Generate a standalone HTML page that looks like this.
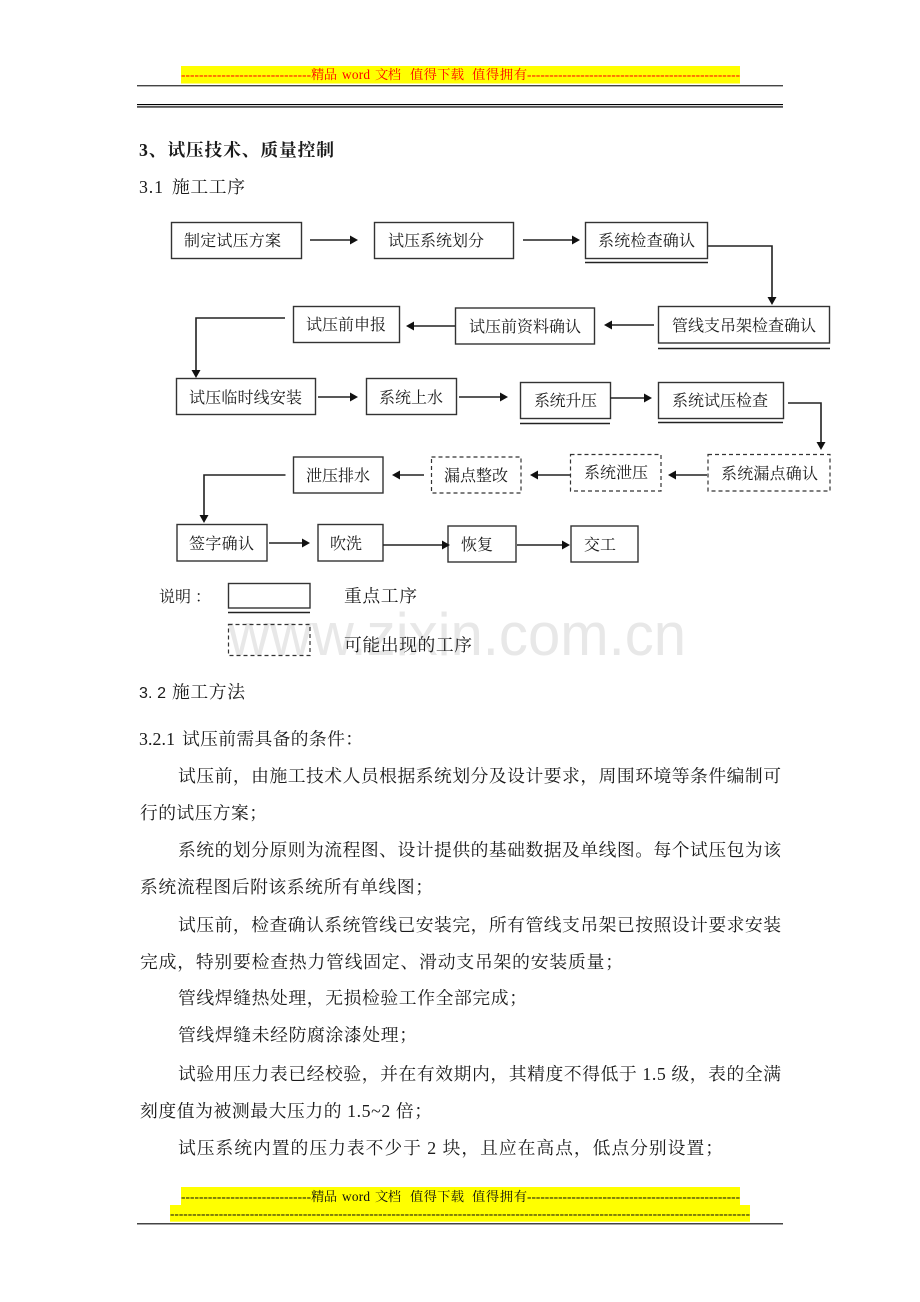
<!DOCTYPE html>
<html lang="zh">
<head>
<meta charset="utf-8">
<title>试压技术、质量控制</title>
<style>
html,body{margin:0;padding:0;background:#fff;width:920px;height:1302px;overflow:hidden}
svg{display:block}
text{font-family:"Liberation Serif","Noto Serif CJK SC",serif;fill:#1a1a1a;white-space:pre}
.b{font-size:16px}
.p{font-size:17.8px}
.h{font-size:17.8px;font-weight:bold}
.r{font-size:13.3px;fill:#f00}
.k{font-size:13.3px;fill:#111}
.box{fill:none;stroke:#333;stroke-width:1.4}
.dash{fill:none;stroke:#333;stroke-width:1.2;stroke-dasharray:4 3}
.ln{fill:none;stroke:#222;stroke-width:1.6}
.head{fill:#111}
</style>
</head>
<body>
<svg xmlns="http://www.w3.org/2000/svg" width="920" height="1302" viewBox="0 0 920 1302">
<rect width="920" height="1302" fill="#fff"/>

<!-- watermark -->
<text x="228" y="655" textLength="458" lengthAdjust="spacingAndGlyphs" style="font-family:'Liberation Sans',sans-serif;font-size:60px;fill:#e8e8e8">www.zixin.com.cn</text>

<!-- header -->
<rect x="181" y="66" width="559" height="17.5" fill="#ff0"/>
<text class="r" x="181" y="79" textLength="130">-----------------------------</text>
<text class="r" x="311" y="79" textLength="26">精品</text>
<text class="r" x="342" y="79" textLength="28">word</text>
<text class="r" x="375" y="79" textLength="26">文档</text>
<text class="r" x="410" y="79" textLength="54">值得下载</text>
<text class="r" x="472" y="79" textLength="55">值得拥有</text>
<text class="r" x="527" y="79" textLength="213">------------------------------------------------</text>
<rect x="137" y="85" width="646" height="1.4" fill="#444"/>
<rect x="137" y="104" width="646" height="1" fill="#000"/>
<rect x="137" y="105.8" width="646" height="2" fill="#555"/>

<!-- headings -->
<text class="h" x="139" y="156" textLength="195">3、试压技术、质量控制</text>
<text class="p" x="139" y="193" textLength="24">3.1</text>
<text class="p" x="172" y="193" textLength="73">施工工序</text>

<!-- boxes solid -->
<rect class="box" x="171.5" y="222.5" width="130" height="36"/>
<rect class="box" x="374.5" y="222.5" width="139" height="36"/>
<rect class="box" x="585.5" y="222.5" width="122" height="36"/>
<rect class="box" x="658.5" y="306.5" width="171" height="36.5"/>
<rect class="box" x="455.5" y="308" width="139" height="36"/>
<rect class="box" x="293.5" y="306.5" width="106" height="36"/>
<rect class="box" x="176.5" y="378.5" width="139" height="36"/>
<rect class="box" x="366.5" y="378.5" width="90" height="36"/>
<rect class="box" x="520.5" y="382.5" width="90" height="36"/>
<rect class="box" x="658.5" y="382.5" width="125" height="36"/>
<rect class="box" x="293.5" y="457" width="89.5" height="36"/>
<rect class="box" x="177" y="524.5" width="90" height="36.5"/>
<rect class="box" x="318" y="524.5" width="65" height="36.5"/>
<rect class="box" x="448" y="526" width="68" height="36"/>
<rect class="box" x="571" y="526" width="67" height="36"/>

<!-- underlines -->
<path class="ln" d="M585 262.5H708M658 348.5H830M520 423.5H610M658 422.5H783"/>

<!-- boxes dashed -->
<rect class="dash" x="708" y="454.5" width="122" height="36.5"/>
<rect class="dash" x="570.5" y="454.5" width="90.5" height="36.5"/>
<rect class="dash" x="431.5" y="457" width="89.5" height="36"/>

<!-- legend -->
<rect class="box" x="228.5" y="583.5" width="81.5" height="24.5"/>
<path class="ln" d="M228 612.5H310"/>
<rect class="dash" x="228.5" y="624.5" width="81.5" height="31"/>

<!-- connectors -->
<path class="ln" d="M310 240H350M523 240H572M708 246H772V297M654 325H612M455 326H414M285 318H196V370M318 397H350M459 397H500M610 398H644M788 403H821V442M707 475H676M570 475H538M424 475H400M285.5 475H204V515M269 543H302M383 545H442M517 545H562"/>
<g class="head">
<path d="M358 240l-8-4.500v9zM580 240l-8-4.500v9zM772 305l-4.500-8h9zM604 325l8-4.500v9zM406 326l8-4.500v9zM196 378l-4.500-8h9zM358 397l-8-4.500v9zM508 397l-8-4.500v9zM652 398l-8-4.500v9zM821 450l-4.500-8h9zM668 475l8-4.500v9zM530 475l8-4.500v9zM392 475l8-4.500v9zM204 523l-4.500-8h9zM310 543l-8-4.500v9zM450 545l-8-4.500v9zM570 545l-8-4.500v9z"/>
</g>

<!-- box labels -->
<text class="b" x="184" y="246" textLength="97">制定试压方案</text>
<text class="b" x="388" y="246" textLength="96">试压系统划分</text>
<text class="b" x="598" y="246" textLength="97">系统检查确认</text>
<text class="b" x="672" y="331" textLength="144">管线支吊架检查确认</text>
<text class="b" x="469" y="332" textLength="112">试压前资料确认</text>
<text class="b" x="306" y="330" textLength="80">试压前申报</text>
<text class="b" x="189" y="403" textLength="113">试压临时线安装</text>
<text class="b" x="379" y="403" textLength="64">系统上水</text>
<text class="b" x="534" y="406" textLength="63">系统升压</text>
<text class="b" x="672" y="406" textLength="96">系统试压检查</text>
<text class="b" x="721" y="479" textLength="97">系统漏点确认</text>
<text class="b" x="584" y="478" textLength="64">系统泄压</text>
<text class="b" x="444" y="481" textLength="64">漏点整改</text>
<text class="b" x="306" y="481" textLength="64">泄压排水</text>
<text class="b" x="189" y="549" textLength="65">签字确认</text>
<text class="b" x="330" y="549" textLength="32">吹洗</text>
<text class="b" x="461" y="550" textLength="32">恢复</text>
<text class="b" x="584" y="550" textLength="32">交工</text>
<text class="b" x="159" y="602" textLength="32">说明</text>
<text class="b" x="195" y="602">：</text>
<text class="p" x="344" y="602" textLength="73">重点工序</text>
<text class="p" x="344" y="651" textLength="128">可能出现的工序</text>

<!-- body -->
<text class="h" x="139" y="698" textLength="27" style="font-family:'Liberation Sans',sans-serif;font-weight:normal;font-size:16px">3. 2</text>
<text class="h" x="172" y="698" textLength="73" style="font-weight:normal">施工方法</text>
<text class="p" x="139" y="745" textLength="36">3.2.1</text>
<text class="p" x="182" y="745" textLength="181">试压前需具备的条件：</text>
<text class="p" x="178" y="782" textLength="603">试压前，由施工技术人员根据系统划分及设计要求，周围环境等条件编制可</text>
<text class="p" x="140" y="819" textLength="127">行的试压方案；</text>
<text class="p" x="178" y="856" textLength="603">系统的划分原则为流程图、设计提供的基础数据及单线图。每个试压包为该</text>
<text class="p" x="140" y="893" textLength="293">系统流程图后附该系统所有单线图；</text>
<text class="p" x="178" y="931" textLength="603">试压前，检查确认系统管线已安装完，所有管线支吊架已按照设计要求安装</text>
<text class="p" x="140" y="968" textLength="483">完成，特别要检查热力管线固定、滑动支吊架的安装质量；</text>
<text class="p" x="178" y="1004" textLength="349">管线焊缝热处理，无损检验工作全部完成；</text>
<text class="p" x="178" y="1041" textLength="239">管线焊缝未经防腐涂漆处理；</text>
<text class="p" x="178" y="1080" textLength="603">试验用压力表已经校验，并在有效期内，其精度不得低于 1.5 级，表的全满</text>
<text class="p" x="140" y="1117" textLength="292">刻度值为被测最大压力的 1.5~2 倍；</text>
<text class="p" x="178" y="1154" textLength="545">试压系统内置的压力表不少于 2 块，且应在高点，低点分别设置；</text>

<!-- footer -->
<rect x="181" y="1187" width="559" height="18" fill="#ff0"/>
<rect x="170" y="1205" width="580" height="16.700" fill="#ff0"/>
<text class="k" x="181" y="1201" textLength="130">-----------------------------</text>
<text class="k" x="311" y="1201" textLength="26">精品</text>
<text class="k" x="342" y="1201" textLength="28">word</text>
<text class="k" x="375" y="1201" textLength="26">文档</text>
<text class="k" x="410" y="1201" textLength="54">值得下载</text>
<text class="k" x="472" y="1201" textLength="55">值得拥有</text>
<text class="k" x="527" y="1201" textLength="213">------------------------------------------------</text>
<text class="k" x="170" y="1218" textLength="580">-----------------------------------------------------------------------------------------------------------------------------------</text>
<rect x="137" y="1223" width="646" height="1.500" fill="#444"/>
</svg>
</body>
</html>
